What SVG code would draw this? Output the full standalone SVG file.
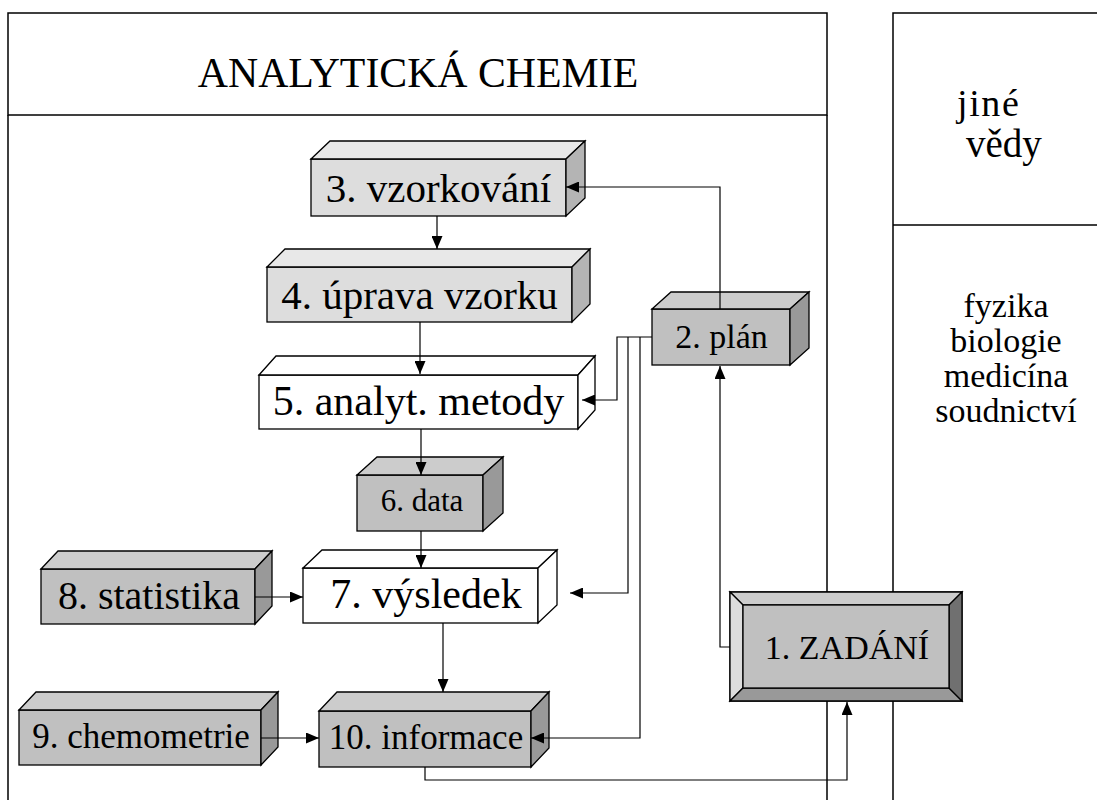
<svg xmlns="http://www.w3.org/2000/svg" width="1097" height="800" viewBox="0 0 1097 800">
<style>
.frame{fill:none;stroke:#000;stroke-width:1.5}
.bx{stroke:#000;stroke-width:1.3;stroke-linejoin:miter}
.l1f{fill:#dddddd}.l1t{fill:#e8e8e8}.l1s{fill:#b4b4b4}
.g2f{fill:#c0c0c0}.g2t{fill:#cccccc}.g2s{fill:#999999}
.wf{fill:#ffffff}
.t{fill:#000;text-anchor:middle}
.c{fill:none;stroke:#000;stroke-width:1.2}
.ca{fill:none;stroke:#000;stroke-width:1.2;marker-end:url(#ah)}
</style>
<defs>
<marker id="ah" markerUnits="userSpaceOnUse" markerWidth="13" markerHeight="11" refX="13" refY="5.5" orient="auto"><path d="M0,0 L13,5.5 L0,11 z" fill="#000"/></marker>
</defs>
<rect width="1097" height="800" fill="#fff"/>
<g font-family="Liberation Serif, Tinos, Times New Roman, DejaVu Serif, serif">
<g id="frame">
<rect class="frame" x="8" y="13" width="819" height="102"/>
<path class="frame" d="M8,115 V800 M827,115 V800 M893,800 V13 H1097 M893,225 H1097"/>
<text class="t" x="418" y="87" font-size="41.8">ANALYTICKÁ CHEMIE</text>
<text class="t" x="957" y="116" font-size="38" letter-spacing="1.6" style="text-anchor:start">jiné</text>
<text class="t" x="966" y="157" font-size="39" style="text-anchor:start">vědy</text>
<text class="t" x="1006" y="317" font-size="34">fyzika</text>
<text class="t" x="1006" y="352" font-size="34">biologie</text>
<text class="t" x="1006" y="387" font-size="34">medicína</text>
<text class="t" x="1006" y="422" font-size="34">soudnictví</text>
</g>
<g id="n3">
<rect class="bx l1f" x="311" y="159" width="255" height="57"/>
<polygon class="bx l1t" points="311,159 330,141 585,141 566,159"/>
<polygon class="bx l1s" points="566,159 585,141 585,198 566,216"/>
<text class="t" x="438.5" y="202" font-size="41">3. vzorkování</text>
</g>
<g id="n4">
<rect class="bx l1f" x="267" y="267" width="305" height="55"/>
<polygon class="bx l1t" points="267,267 285,249 590,249 572,267"/>
<polygon class="bx l1s" points="572,267 590,249 590,304 572,322"/>
<text class="t" x="419.5" y="309" font-size="41">4. úprava vzorku</text>
</g>
<g id="n5">
<rect class="bx wf" x="259" y="375" width="319" height="54"/>
<polygon class="bx wf" points="259,375 276,356 595,356 578,375"/>
<polygon class="bx wf" points="578,375 595,356 595,410 578,429"/>
<text class="t" x="418.5" y="415" font-size="42">5. analyt. metody</text>
</g>
<g id="n6">
<rect class="bx g2f" x="357" y="475" width="126" height="56"/>
<polygon class="bx g2t" points="357,475 377,457 503,457 483,475"/>
<polygon class="bx g2s" points="483,475 503,457 503,513 483,531"/>
<text class="t" x="422" y="511" font-size="31">6. data</text>
</g>
<g id="n7">
<rect class="bx wf" x="303" y="568" width="235" height="55"/>
<polygon class="bx wf" points="303,568 322,550 557,550 538,568"/>
<polygon class="bx wf" points="538,568 557,550 557,605 538,623"/>
<text class="t" x="426" y="608" font-size="42">7. výsledek</text>
</g>
<g id="n8">
<rect class="bx g2f" x="41" y="569" width="214" height="55"/>
<polygon class="bx g2t" points="41,569 58,551 272,551 255,569"/>
<polygon class="bx g2s" points="255,569 272,551 272,606 255,624"/>
<text class="t" x="149" y="609" font-size="40">8. statistika</text>
</g>
<g id="n9">
<rect class="bx g2f" x="19" y="710" width="242" height="55"/>
<polygon class="bx g2t" points="19,710 36,692 278,692 261,710"/>
<polygon class="bx g2s" points="261,710 278,692 278,747 261,765"/>
<text class="t" x="141" y="748" font-size="35">9. chemometrie</text>
</g>
<g id="n10">
<rect class="bx g2f" x="319" y="711" width="212" height="56"/>
<polygon class="bx g2t" points="319,711 337,692 549,692 531,711"/>
<polygon class="bx g2s" points="531,711 549,692 549,748 531,767"/>
<text class="t" x="426" y="749" font-size="35">10. informace</text>
</g>
<g id="n2">
<rect class="bx g2f" x="652" y="309" width="138" height="56"/>
<polygon class="bx g2t" points="652,309 671,292 809,292 790,309"/>
<polygon class="bx g2s" points="790,309 809,292 809,348 790,365"/>
<text class="t" x="721.5" y="348" font-size="34">2. plán</text>
</g>
<g id="n1">
<rect class="bx g2f" x="730" y="592" width="232" height="109"/>
<polygon class="bx" fill="#cccccc" points="730,592 962,592 949,605 743,605"/>
<polygon class="bx" fill="#dddddd" points="730,592 743,605 743,688 730,701"/>
<polygon class="bx" fill="#999999" points="730,701 743,688 949,688 962,701"/>
<polygon class="bx" fill="#707070" points="962,592 962,701 949,688 949,605"/>
<rect class="bx g2f" x="743" y="605" width="206" height="83"/>
<text class="t" x="847" y="659" font-size="34">1. ZADÁNÍ</text>
</g>
</g>
<g id="connectors">
<path class="ca" d="M437,216 V249"/>
<path class="ca" d="M420,322 V374"/>
<path class="ca" d="M421,429 V475"/>
<path class="ca" d="M421,531 V568"/>
<path class="ca" d="M443,623 V692"/>
<path class="ca" d="M255,597 H303"/>
<path class="ca" d="M261,738 H319"/>
<path class="ca" d="M720,309 V187 H566"/>
<path class="ca" d="M652,337 H617 V400 H582"/>
<path class="ca" d="M628,337 V593 H570"/>
<path class="ca" d="M640,337 V738 H531"/>
<path class="ca" d="M730,647 H720 V366"/>
<path class="ca" d="M425,767 V780 H847 V702"/>
</g>
</svg>
